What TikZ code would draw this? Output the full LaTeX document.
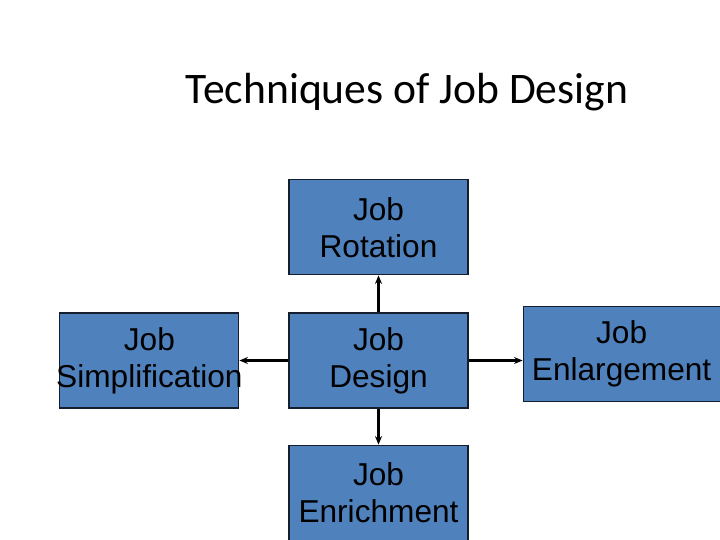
\documentclass[tikz,border=0pt]{standalone}
\usepackage{fontspec}
\setmainfont{Liberation Sans}
\newfontfamily\titlefont{Carlito}
\usetikzlibrary{positioning, arrows.meta}
\definecolor{boxblue}{RGB}{79, 129, 189}
\definecolor{boxline}{RGB}{20, 30, 45}

\begin{document}
\begin{tikzpicture}[
    jobbox/.style={
        draw=boxline,
        fill=boxblue,
        line width=0.8pt,
        font=\fontsize{22.5}{26.5}\selectfont,
        align=center,
        minimum width=4.475cm,
        minimum height=2.375cm,
        inner sep=0pt
    },
    titlelbl/.style={font=\titlefont\fontsize{31}{36}\selectfont},
    link/.style={-{Stealth[length=6pt, width=5pt]}, line width=1.5pt, black}
]
\useasboundingbox (0,0) rectangle (18,13.5);

% === Title ===
\node[titlelbl] (title) at (10.175,11.2) {Techniques of Job Design};

% === Centre ===
\node[jobbox] (design) at (9.4625,4.4875) {Job\\Design};

% === Around the centre ===
\node[jobbox, above=0.925cm of design] (rotation) {Job\\Rotation};
\node[jobbox, left=1.225cm of design] (simplification) {Job\\\makebox[0pt][c]{Simplification}};
\node[jobbox, below=0.9cm of design] (enrichment) {Job\\Enrichment};
\node[jobbox, minimum width=4.925cm, right=1.35cm of design, yshift=0.16cm] (enlargement) {Job\\Enlargement};

% === Arrows ===
\draw[link] (design.north) -- (rotation.south);
\draw[link] (design.west) -- (simplification.east);
\draw[link] (design.south) -- (enrichment.north);
\draw[link] (design.east) -- (enlargement.west |- design.east);

\end{tikzpicture}
\end{document}
